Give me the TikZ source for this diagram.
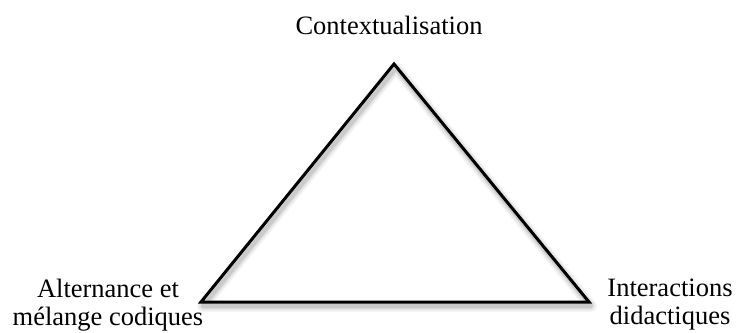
\documentclass[tikz,border=0pt]{standalone}
\usepackage{fontspec}
\setmainfont{Liberation Serif}
\begin{document}
\begin{tikzpicture}[x=1pt,y=1pt,
  lbl/.style={font=\fontsize{26.5}{28}\selectfont, align=center, inner sep=0pt},
  tri/.style={draw=black, line width=3pt, line join=miter}]
\useasboundingbox (0,0) rectangle (736,332);
\coordinate (top) at (394,268);
\coordinate (bl) at (201,30);
\coordinate (br) at (589,30);
% soft shadow
\foreach \w/\o in {12/0.04,9/0.05,6/0.06,4/0.08} {
  \draw[line width=\w pt, draw=black, opacity=\o, line join=round]
    ([shift={(2,-4)}]top) -- ([shift={(2,-4)}]br) -- ([shift={(2,-4)}]bl) -- cycle;
}
\draw[tri] (top) -- (br) -- (bl) -- cycle;
\node[lbl, anchor=base] (ctx) at (389,297) {Contextualisation};
\node[lbl] (alt) at (108,27) {Alternance et\\mélange codiques};
\node[lbl] (int) at (670,27) {Interactions\\didactiques};
\end{tikzpicture}
\end{document}
